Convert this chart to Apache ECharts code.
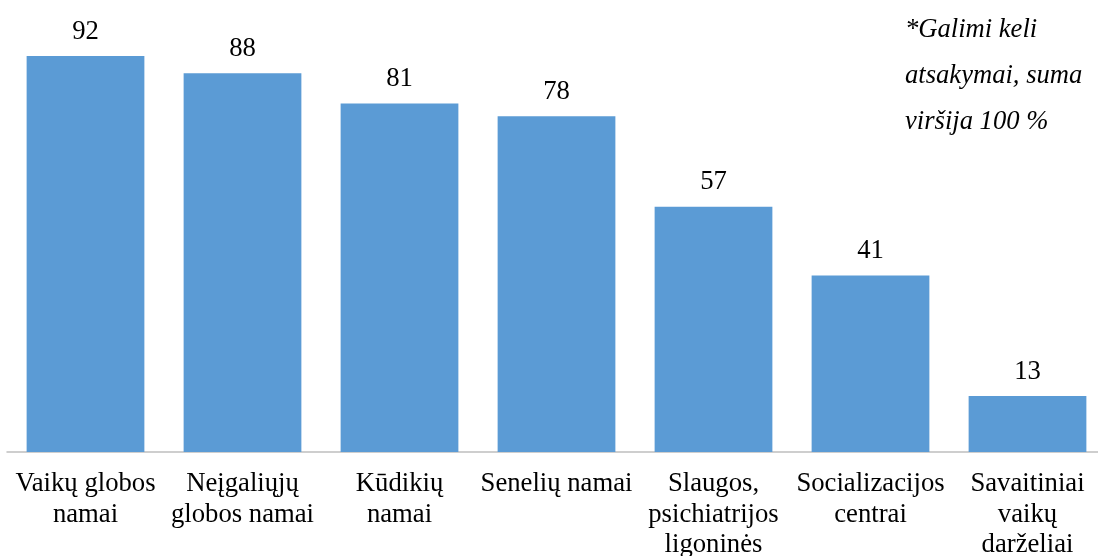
<!DOCTYPE html>
<html>
<head>
<meta charset="utf-8">
<script src="https://cdn.jsdelivr.net/npm/echarts@6/dist/echarts.min.js"></script>
<style>
html,body{margin:0;padding:0;background:#fff;}
#c{width:1098px;height:556px;}
</style>
</head>
<body>
<div id="c"></div>
<script>
const categories = [
  'Vaikų globos\nnamai',
  'Neįgaliųjų\nglobos namai',
  'Kūdikių\nnamai',
  'Senelių namai',
  'Slaugos,\npsichiatrijos\nligoninės',
  'Socializacijos\ncentrai',
  'Savaitiniai\nvaikų\ndarželiai'
];
const values = [92, 88, 81, 78, 57, 41, 13];
const noteLines = ['*Galimi keli', 'atsakymai, suma', 'viršija 100 %'];

const FONT = '"Liberation Serif", "Times New Roman", serif';
const chart = echarts.init(document.getElementById('c'));
chart.setOption({
  animation: false,
  backgroundColor: '#ffffff',
  grid: { left: 7, top: 21.6, width: 1099, bottom: 104, containLabel: false, outerBoundsMode: 'none' },
  xAxis: {
    type: 'category',
    data: categories,
    axisLine: { show: true, lineStyle: { color: '#BFBFBF', width: 1.5 } },
    axisTick: { show: false },
    axisLabel: {
      interval: 0,
      color: '#000',
      fontFamily: FONT,
      fontSize: 26.7,
      lineHeight: 30.5,
      margin: 17,
      align: 'center'
    }
  },
  yAxis: {
    type: 'value',
    min: 0,
    max: 100,
    show: false,
    splitLine: { show: false }
  },
  graphic: [{
    type: 'text',
    left: 905,
    top: 7,
    style: {
      text: noteLines.join('\n'),
      fontFamily: FONT,
      fontStyle: 'italic',
      fontSize: 26.6,
      lineHeight: 46,
      fill: '#000'
    }
  }],
  series: [{
    type: 'bar',
    data: values,
    barCategoryGap: '25%',
    itemStyle: { color: '#5B9BD5' },
    label: {
      show: true,
      position: 'top',
      distance: 11,
      color: '#000',
      fontFamily: FONT,
      fontSize: 26.7
    }
  }]
});
</script>
</body>
</html>
